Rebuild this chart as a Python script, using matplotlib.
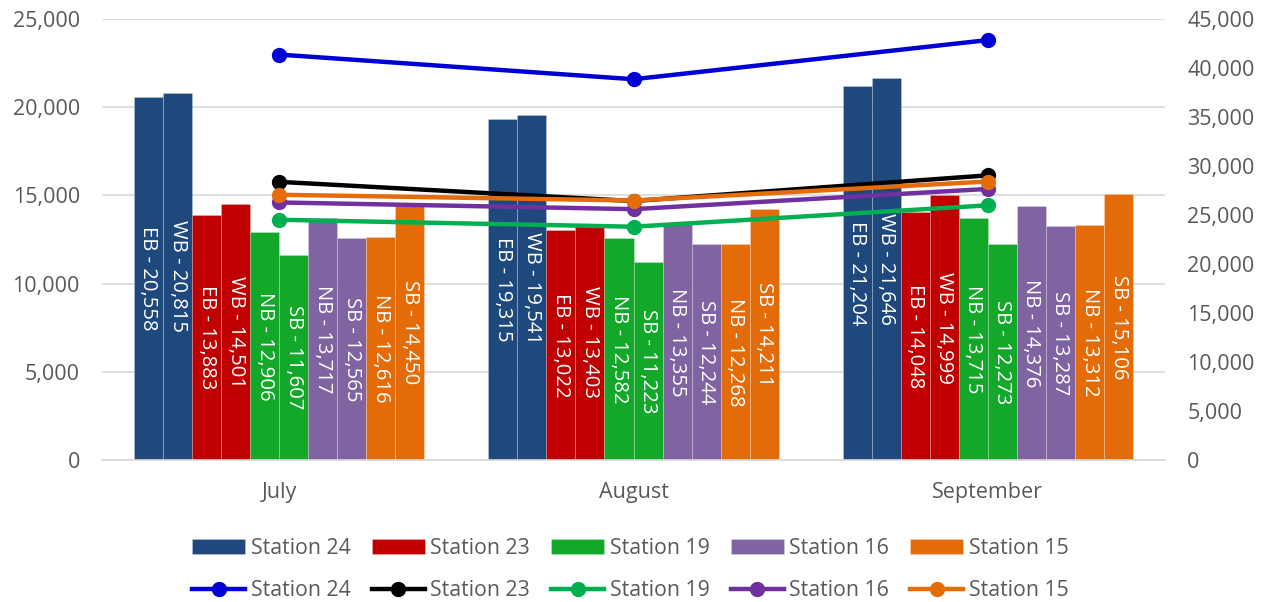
import matplotlib
matplotlib.use('Agg')
import matplotlib.pyplot as plt
from matplotlib.ticker import FuncFormatter, MultipleLocator

plt.rcParams['font.family'] = ['Open Sans', 'DejaVu Sans']

# Months
meses = ['July', 'August', 'September']

# Bar series (direction counts per station)
stations = ['Station 24', 'Station 23', 'Station 19', 'Station 16', 'Station 15']
dirs = {
    'Station 24': ['EB', 'WB'],
    'Station 23': ['EB', 'WB'],
    'Station 19': ['NB', 'SB'],
    'Station 16': ['NB', 'SB'],
    'Station 15': ['NB', 'SB'],
}
st24_a = [20558, 19315, 21204]
st24_b = [20815, 19541, 21646]
st23_a = [13883, 13022, 14048]
st23_b = [14501, 13403, 14999]
st19_a = [12906, 12582, 13715]
st19_b = [11607, 11223, 12273]
st16_a = [13717, 13355, 14376]
st16_b = [12565, 12244, 13287]
st15_a = [12616, 12268, 13312]
st15_b = [14450, 14211, 15106]

# Totals per station (right axis)
tot24 = [41373, 38856, 42850]
tot23 = [28384, 26425, 29047]
tot19 = [24513, 23805, 25988]
tot16 = [26282, 25599, 27663]
tot15 = [27066, 26479, 28418]

bar_colors = ['#1F497D', '#C00000', '#13A829', '#8064A2', '#E36C09']
line_colors = ['#0000D4', '#000000', '#00B050', '#7030A0', '#E46C0A']

series = [
    (st24_a, st24_b), (st23_a, st23_b), (st19_a, st19_b),
    (st16_a, st16_b), (st15_a, st15_b),
]
totals = [tot24, tot23, tot19, tot16, tot15]

gris = '#595959'
fig = plt.figure(figsize=(12.63, 6.02), dpi=100)
ax = fig.add_axes([0.0808, 0.2359, 0.8416, 0.7325])
ax2 = ax.twinx()

w = 0.082
x = list(range(len(meses)))
bar_handles = []
k = 0
for i, st in enumerate(stations):
    for j, vals in enumerate(series[i]):
        pos = [xi + (k - 4.5) * w for xi in x]
        bars = ax.bar(pos, vals, width=w, color=bar_colors[i],
                      edgecolor=(1, 1, 1, 0.25), linewidth=0.6, zorder=2)
        if j == 0:
            bar_handles.append(bars)
        for p, v in zip(pos, vals):
            ax.text(p, v / 2, f'{dirs[st][j]} - {v:,}', rotation=-90,
                    ha='center', va='center', color='white', fontsize=14.6,
                    zorder=3)
        k += 1

line_handles = []
for i, st in enumerate(stations):
    ln, = ax2.plot(x, totals[i], color=line_colors[i], lw=3.2, marker='o',
                   markersize=10, zorder=4)
    line_handles.append(ln)

ax.set_xlim(-0.5, 2.5)
ax.set_ylim(0, 25000)
ax2.set_ylim(0, 45000)
ax.yaxis.set_major_locator(MultipleLocator(5000))
ax2.yaxis.set_major_locator(MultipleLocator(5000))
fmt = FuncFormatter(lambda v, p: f'{int(v):,}')
ax.yaxis.set_major_formatter(fmt)
ax2.yaxis.set_major_formatter(fmt)

ax.grid(axis='y', color='#D9D9D9', lw=1.2, zorder=0)
ax.set_axisbelow(True)
for a in (ax, ax2):
    for s in a.spines.values():
        s.set_visible(False)
    a.tick_params(length=0, labelsize=15.5, colors=gris)
ax.spines['bottom'].set_visible(True)
ax.spines['bottom'].set_color('#D9D9D9')
ax.spines['bottom'].set_linewidth(1.2)
ax.set_xticks(x)
ax.set_xticklabels(meses)
ax.tick_params(axis='x', pad=16, labelsize=15.5)
ax.tick_params(axis='y', pad=16)
ax2.tick_params(axis='y', pad=16)

leg_kw = dict(ncol=5, frameon=False, fontsize=15.3, handlelength=2.5,
              handletextpad=0.25, columnspacing=1.0, labelcolor=gris,
              loc='center')
fig.legend(bar_handles, stations, bbox_to_anchor=(0.499, 0.0897),
           handleheight=0.7, **leg_kw)
fig.legend(line_handles, stations, bbox_to_anchor=(0.499, 0.0183), **leg_kw)

fig.savefig('out.png', dpi=100)
